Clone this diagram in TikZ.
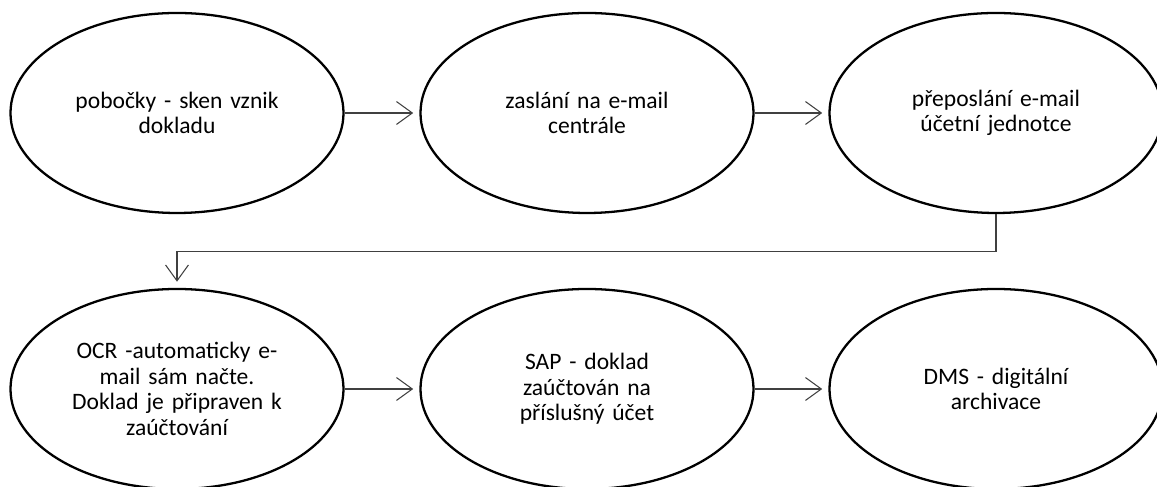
\documentclass[tikz,border=0pt]{standalone}
\usepackage{fontspec}
\setmainfont{Carlito}
\usetikzlibrary{shapes.geometric,arrows.meta}

\begin{document}
\begin{tikzpicture}[
    step box/.style={ellipse, draw=black, line width=1.3pt,
      minimum width=6.66cm, minimum height=4cm, inner sep=0pt,
      text width=4.5cm, align=center,
      font=\fontsize{13.4}{14.6}\selectfont},
    flow/.style={draw=black!75, line width=0.6pt,
      -{Straight Barb[length=9pt,width=13pt,line width=0.6pt]},
      shorten >=3.5pt}
  ]
    % Fix the size of the page
    \useasboundingbox (0,0) rectangle (23.14,9.74);
    % Top row of the process
    \node[step box] (pobocky) at (3.54,7.48) {pobočky - sken vznik\\dokladu};
    \node[step box] (zaslani) at (11.74,7.48) {zaslání na e-mail\\centrále};
    \node[step box] (preposlani) at (19.92,7.48) {přeposlání e-mail\\účetní jednotce};
    % Bottom row of the process
    \node[step box] (ocr) at (3.54,1.96) {OCR -automaticky e-\\mail sám načte.\\Doklad je připraven k\\zaúčtování};
    \node[step box] (sap) at (11.74,1.96) {SAP - doklad\\zaúčtován na\\příslušný účet};
    \node[step box] (dms) at (19.92,1.96) {DMS - digitální\\archivace};
    % Turning point of the connector between the rows
    \coordinate (bend) at (19.92,4.71);
    % Draw the connectors
    \draw[flow] (pobocky) -- (zaslani);
    \draw[flow] (zaslani) -- (preposlani);
    \draw[flow] (preposlani.south) -- (bend) -| (ocr.north);
    \draw[flow] (ocr) -- (sap);
    \draw[flow] (sap) -- (dms);
\end{tikzpicture}
\end{document}
